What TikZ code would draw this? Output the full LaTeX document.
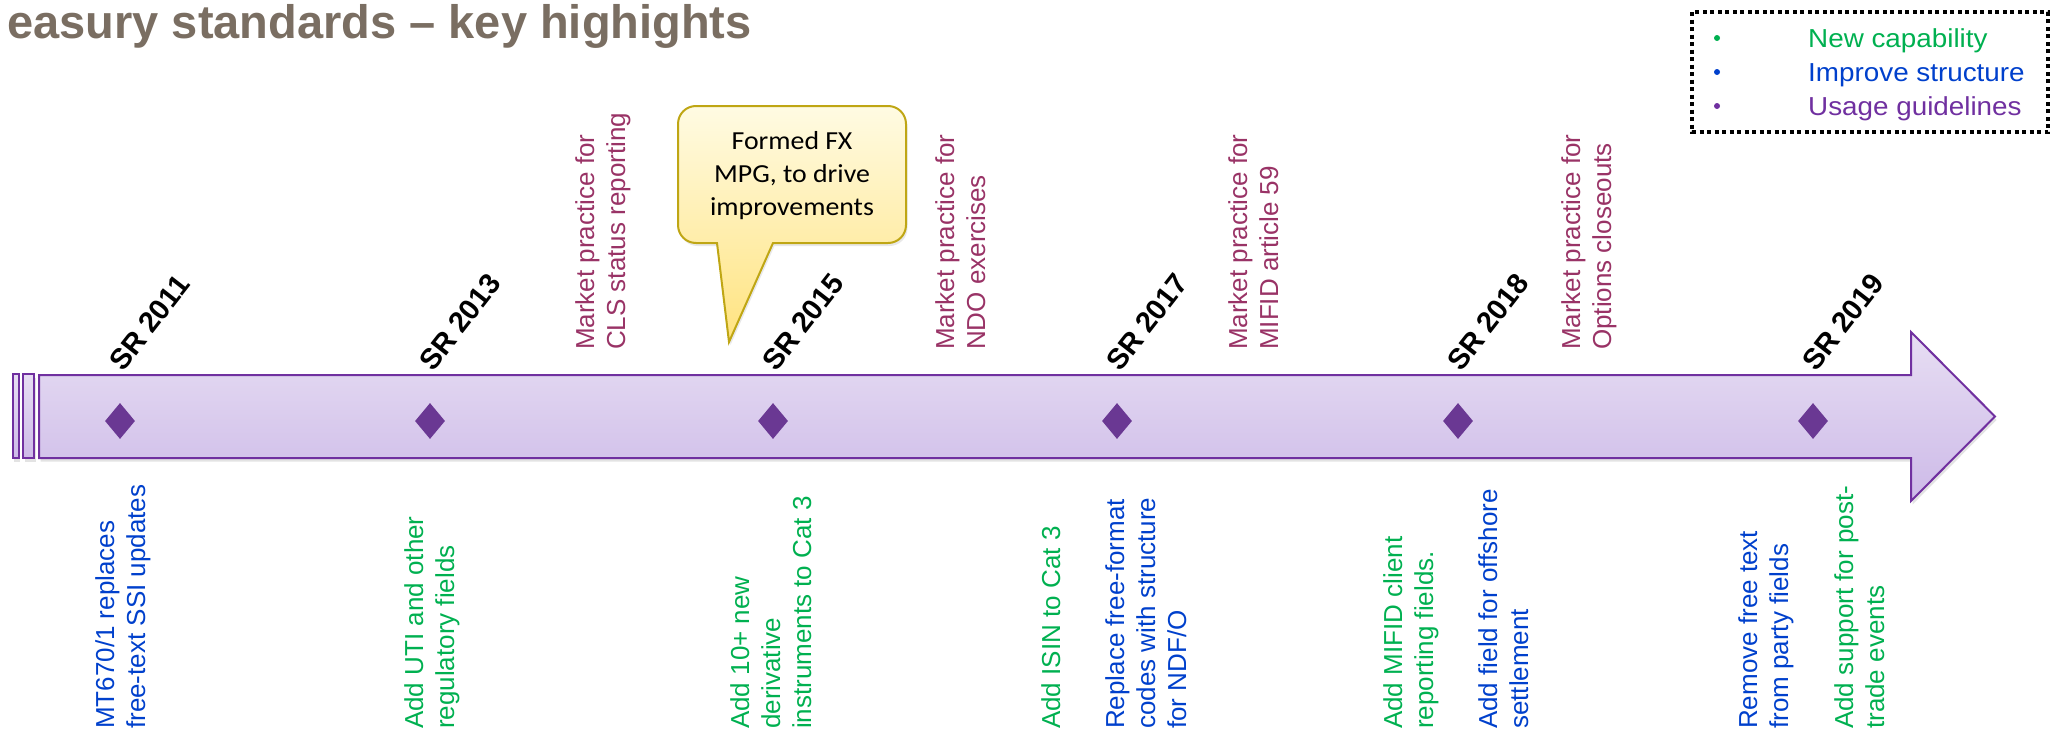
\documentclass[tikz,border=0pt]{standalone}
\usepackage{fontspec}
\setmainfont{Liberation Sans}
\newfontfamily\calib{Carlito}
\usetikzlibrary{shadows,shapes.geometric}
\definecolor{capgreen}{HTML}{00B050}
\definecolor{strblue}{HTML}{0040CC}
\definecolor{usepurple}{HTML}{7030A0}
\definecolor{mpmaroon}{HTML}{993366}
\definecolor{titlegray}{HTML}{7A6E62}
\definecolor{arrowline}{HTML}{7030A0}
\definecolor{arrowtop}{HTML}{E7DEF3}
\definecolor{arrowbot}{HTML}{CDBAE8}
\definecolor{diam}{HTML}{6A3893}
\definecolor{callline}{HTML}{BFA614}
\definecolor{calltop}{HTML}{FFFBE3}
\definecolor{callbot}{HTML}{FFE37F}
\begin{document}
\begin{tikzpicture}[x=1pt,y=-1pt,
  vtext/.style={rotate=90,anchor=north west,align=left,inner sep=0pt,
    font=\fontsize{26}{31}\selectfont},
  newcap/.style={vtext,text=capgreen},
  improve/.style={vtext,text=strblue},
  practice/.style={vtext,text=mpmaroon},
  srlabel/.style={rotate=52,anchor=base west,inner sep=0pt,
    font=\bfseries\fontsize{29}{32}\selectfont},
  milestone/.style={diamond,fill=diam,draw=none,inner sep=0pt,
    minimum width=30pt,minimum height=36pt},
  timeline/.style={draw=arrowline,line width=2pt,line join=miter,
    top color=arrowtop,bottom color=arrowbot,
    drop shadow={shadow xshift=1.5pt,shadow yshift=-3.5pt,opacity=0.22}},
  callout/.style={draw=callline,line width=2pt,
    top color=calltop,bottom color=callbot,
    drop shadow={shadow xshift=1.5pt,shadow yshift=-3pt,opacity=0.18}},
  legendtext/.style={anchor=base west,inner sep=0pt,xscale=1.07,
    font=\fontsize{26}{31}\selectfont},
  legenddot/.style={circle,inner sep=0pt,minimum size=6pt},
  legendbox/.style={draw=black,line width=4pt,dash pattern=on 4pt off 3.5pt}
]
\useasboundingbox (0,0) rectangle (2060,739);

% title
\node[anchor=base east,inner sep=0pt,text=titlegray,
  font=\bfseries\fontsize{47}{53}\selectfont] (title) at (752,38)
  {easury standards – key highights};

% legend
\draw[legendbox] (1692,12) rectangle (2048,132);
\node[legenddot,fill=capgreen] (dot1) at (1717,38) {};
\node[legenddot,fill=strblue] (dot2) at (1717,72) {};
\node[legenddot,fill=usepurple] (dot3) at (1717,106) {};
\node[legendtext,text=capgreen] (leg1) at (1808,47) {New capability};
\node[legendtext,text=strblue] (leg2) at (1808,81) {Improve structure};
\node[legendtext,text=usepurple] (leg3) at (1808,115) {Usage guidelines};

% timeline arrow
\path[timeline] (12.7,374) rectangle (18.7,458);
\path[timeline] (23,374) rectangle (34,458);
\path[timeline] (39,375) -- (1911,375) -- (1911,332) -- (1995,416.5)
  -- (1911,501) -- (1911,458) -- (39,458) -- cycle;

% milestones
\foreach \n/\x/\yr in {a/120/2011,b/430/2013,c/773/2015,d/1117/2017,e/1458/2018,f/1813/2019}{
  \node[milestone] (m\n) at (\x,421) {};
  \node[srlabel] (sr\n) at (\x+3,373) {SR \yr};
}

% callout
\path[callout] (729,342) -- (773,243) -- (888,243)
  .. controls (898,243) and (906,235) .. (906,225) -- (906,124)
  .. controls (906,114) and (898,106) .. (888,106) -- (696,106)
  .. controls (686,106) and (678,114) .. (678,124) -- (678,225)
  .. controls (678,235) and (686,243) .. (696,243) -- (717,243) -- cycle;
\node[align=center,inner sep=0pt,xscale=1.07,
  font=\calib\fontsize{26}{33}\selectfont] (fxmpg) at (792,176)
  {Formed FX\\MPG, to drive\\improvements};

% market practice notes (top)
\node[practice] (mp1) at (575,350) {Market practice for\\CLS status reporting};
\node[practice] (mp2) at (935,350) {Market practice for\\NDO exercises};
\node[practice] (mp3) at (1228,350) {Market practice for\\MIFID article 59};
\node[practice] (mp4) at (1561,350) {Market practice for\\Options closeouts};

% change notes (bottom)
\node[improve] (n1) at (95,729) {MT670/1 replaces\\free-text SSI updates};
\node[newcap] (n2) at (404,729) {Add UTI and other\\regulatory fields};
\node[newcap] (n3) at (730,729) {Add 10+ new\\derivative\\instruments to Cat 3};
\node[newcap] (n4) at (1041,729) {Add ISIN to Cat 3};
\node[improve] (n5) at (1105,729) {Replace free-format\\codes with structure\\for NDF/O};
\node[newcap] (n6) at (1383,729) {Add MIFID client\\reporting fields.};
\node[improve] (n7) at (1478,729) {Add field for offshore\\settlement};
\node[improve] (n8) at (1738,729) {Remove free text\\from party fields};
\node[newcap] (n9) at (1834,729) {Add support for post-\\trade events};
\end{tikzpicture}
\end{document}
